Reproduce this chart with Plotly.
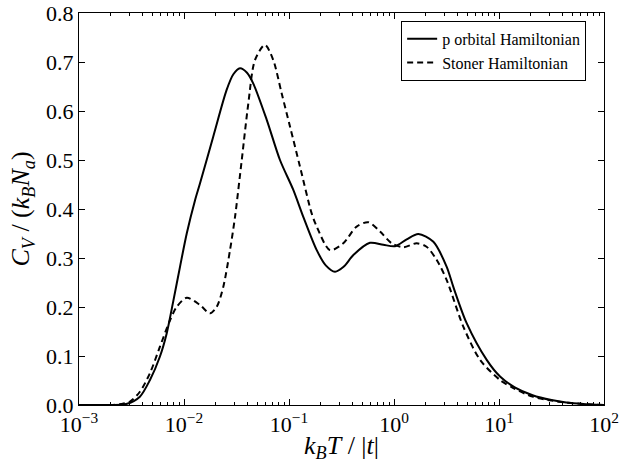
import plotly.graph_objects as go

# p orbital Hamiltonian (solid)
T_p = [0.001, 0.002, 0.00282, 0.0038, 0.00474, 0.0059, 0.00684, 0.00794, 0.00916,
       0.01062, 0.01274, 0.01419, 0.01901, 0.02547, 0.02951, 0.03412, 0.03981,
       0.04571, 0.06138, 0.08204, 0.1099, 0.1368, 0.1837, 0.2239, 0.2742,
       0.3311, 0.4102, 0.5902, 0.7907, 1.023, 1.321, 1.706, 2.371, 3.177,
       3.673, 4.92, 7.638, 10.23, 14.13, 20.89, 31.62, 43.65, 63.1, 100.0]
C_p = [0.0, 0.0, 0.002, 0.017, 0.051, 0.099, 0.146, 0.214, 0.282,
       0.350, 0.418, 0.452, 0.548, 0.643, 0.675, 0.687, 0.678,
       0.656, 0.582, 0.500, 0.439, 0.384, 0.316, 0.285, 0.272,
       0.282, 0.306, 0.331, 0.327, 0.324, 0.338, 0.349, 0.333, 0.282,
       0.241, 0.167, 0.092, 0.058, 0.036, 0.020, 0.010, 0.005, 0.002, 0.0]

# Stoner Hamiltonian (dashed)
T_s = [0.001, 0.002, 0.00251, 0.00306, 0.0038, 0.00474, 0.0059, 0.00736, 0.00851,
       0.01062, 0.01419, 0.0177, 0.02046, 0.02366, 0.02742, 0.03062, 0.03548,
       0.04102, 0.04742, 0.05902, 0.07079, 0.08511, 0.1023, 0.1274, 0.1644,
       0.1837, 0.2455, 0.3289, 0.4406, 0.5689, 0.7362, 0.9506, 1.227, 1.644,
       2.042, 2.553, 3.177, 4.571, 6.607, 10.23, 14.13, 20.89, 31.62, 43.65,
       63.1, 100.0]
C_s = [0.0, 0.0, 0.002, 0.007, 0.027, 0.065, 0.119, 0.173, 0.200,
       0.219, 0.204, 0.187, 0.200, 0.241, 0.316, 0.384, 0.500,
       0.616, 0.704, 0.735, 0.704, 0.636, 0.568, 0.486, 0.391,
       0.364, 0.316, 0.330, 0.364, 0.373, 0.354, 0.330, 0.322, 0.330,
       0.323, 0.296, 0.255, 0.160, 0.092, 0.051, 0.033, 0.017, 0.009, 0.005,
       0.002, 0.0]

x_tickvals = [1e-3, 1e-2, 1e-1, 1e0, 1e1, 1e2]
x_ticktext = ["10<sup>\u22123</sup>", "10<sup>\u22122</sup>", "10<sup>\u22121</sup>",
              "10<sup>0</sup>", "10<sup>1</sup>", "10<sup>2</sup>"]
y_tickvals = [0.0, 0.1, 0.2, 0.3, 0.4, 0.5, 0.6, 0.7, 0.8]
y_ticktext = ["0.0", "0.1", "0.2", "0.3", "0.4", "0.5", "0.6", "0.7", "0.8"]
minor_mults = [2, 3, 4, 5, 6, 7, 8, 9]
x_minor = [m * d for d in x_tickvals[:-1] for m in minor_mults]

FONT = "Liberation Serif"

fig = go.Figure()
fig.add_trace(go.Scatter(x=T_p, y=C_p, mode="lines", name="p orbital Hamiltonian",
                         line=dict(color="black", width=2, shape="spline", smoothing=0.8)))
fig.add_trace(go.Scatter(x=T_s, y=C_s, mode="lines", name="Stoner Hamiltonian",
                         line=dict(color="black", width=2, dash="6px,4px",
                                   shape="spline", smoothing=0.8)))

fig.update_layout(
    width=628, height=463,
    margin=dict(l=79, r=24, t=13, b=58, autoexpand=False),
    paper_bgcolor="white", plot_bgcolor="white",
    font=dict(family=FONT, color="black", size=22),
    showlegend=True,
    legend=dict(x=0.966, y=0.98, xanchor="right", yanchor="top",
                bordercolor="black", borderwidth=1, bgcolor="white",
                font=dict(family=FONT, size=16), tracegroupgap=0),
)
fig.update_xaxes(
    type="log", range=[-3, 2], automargin=False,
    tickvals=x_tickvals, ticktext=x_ticktext,
    ticks="inside", ticklen=6, tickwidth=1, tickcolor="black",
    minor=dict(tickvals=x_minor, ticks="inside", ticklen=3, tickwidth=1,
               tickcolor="black", showgrid=False),
    showline=True, linecolor="black", linewidth=1, mirror="ticks",
    showgrid=False, zeroline=False,
    tickfont=dict(family=FONT, size=22),
    title=dict(text="<i>k</i><sub><i>B</i></sub><i>T</i> / |<i>t</i>|",
               font=dict(family=FONT, size=26), standoff=2),
)
fig.update_yaxes(
    range=[0, 0.8], automargin=False,
    tickvals=y_tickvals, ticktext=y_ticktext,
    ticks="inside", ticklen=6, tickwidth=1, tickcolor="black",
    showline=True, linecolor="black", linewidth=1, mirror="ticks",
    showgrid=False, zeroline=False,
    tickfont=dict(family=FONT, size=22),
    title=dict(text="<i>C</i><sub><i>V</i></sub> / (<i>k</i><sub><i>B</i></sub><i>N</i><sub><i>a</i></sub>)",
               font=dict(family=FONT, size=26), standoff=8),
)

fig.write_html("out.html", config={"displayModeBar": False},
               post_script="document.body.style.margin='0';")
